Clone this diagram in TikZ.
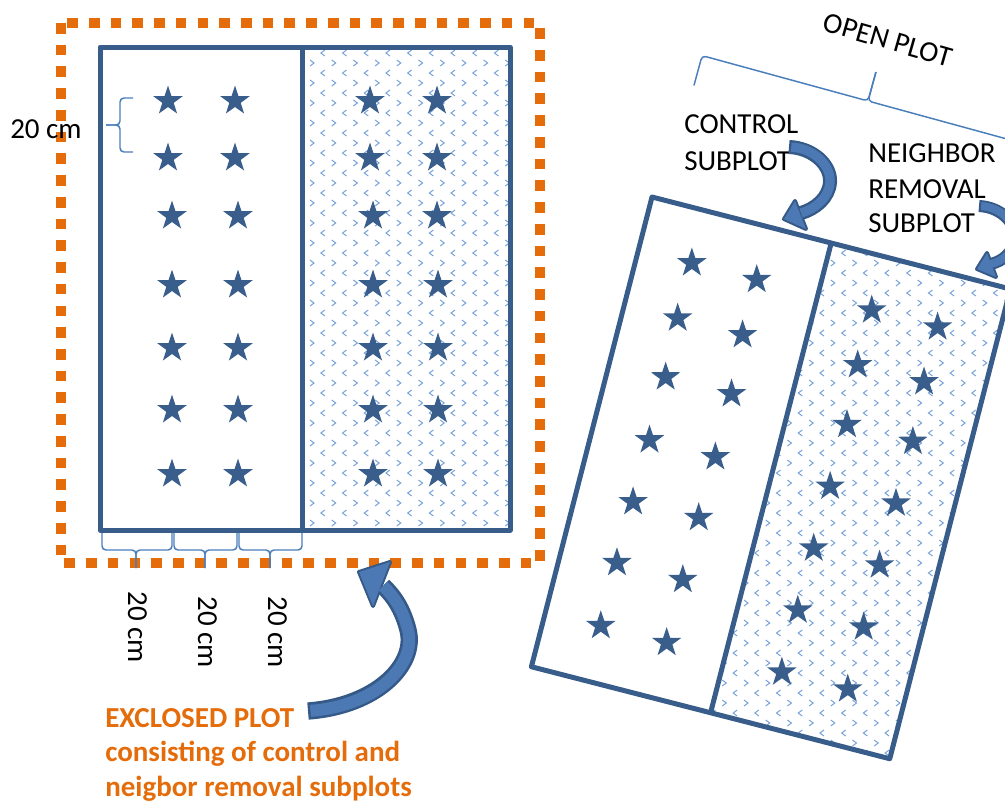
\documentclass[tikz,border=0pt]{standalone}
\usepackage{fontspec}
\setmainfont{Carlito}
\definecolor{frameblue}{RGB}{56,93,138}
\definecolor{starblue}{RGB}{58,94,140}
\definecolor{braceblue}{RGB}{74,126,187}
\definecolor{patblue}{RGB}{120,162,218}
\definecolor{dotorange}{RGB}{228,108,10}
\definecolor{arrowfill}{RGB}{76,120,180}
\definecolor{arrowedge}{RGB}{54,90,135}
\tikzset{
  starmark/.pic={\fill[starblue] (-90:15.5) -- (-54:6) -- (-18:15.5) -- (18:6) -- (54:15.5) -- (90:6) -- (126:15.5) -- (162:6) -- (198:15.5) -- (234:6) -- cycle;}
}
\begin{document}
\begin{tikzpicture}[x=0.75pt,y=-0.75pt,
  frame/.style={draw=frameblue,line width=3.75pt,line join=round},
  dotbox/.style={draw=dotorange,line width=7.5pt,dash pattern=on 8pt off 8.3pt},
  bracepath/.style={draw=braceblue,line width=1.1pt,rounded corners=3pt},
  chev/.style={draw=patblue,line width=0.75pt},
  lbl/.style={font=\fontsize{21.75}{26}\selectfont,inner sep=0pt,text=black},
  otxt/.style={font=\fontsize{21.75}{26}\selectfont\bfseries,inner sep=0pt,text=dotorange},
  rotplot/.style={shift={(652,197)},rotate=-14.4},
  openbrace/.style={shift={(868,101)},rotate=-15.3},
  aedge/.style={draw=arrowedge,line cap=butt},
  afill/.style={draw=arrowfill,line cap=butt}
]
\useasboundingbox (0,0) rectangle (1005,803);

% ---------- pattern, left plot right half
\begin{scope}
\clip (302,47) rectangle (510,530);
\foreach \i in {0,...,10}{\foreach \j in {-1,...,24}{
  \draw[chev] ({312+21.7*\i-2},{63+20*\j-3}) -- ++(4,3) -- ++(-4,3);
  \draw[chev] ({322.85+21.7*\i+2},{53+20*\j-3}) -- ++(-4,3) -- ++(4,3);
}}
\end{scope}

% ---------- rotated plot coordinates
\begin{scope}[rotplot]
\coordinate (rtl) at (0,0);
\coordinate (rtm) at (185,0);
\coordinate (rtr) at (370,0);
\coordinate (rbr) at (370,485);
\coordinate (rbm) at (185,485);
\coordinate (rbl) at (0,485);
\end{scope}

% ---------- pattern, rotated plot right half
\begin{scope}
\clip (rtm) -- (rtr) -- (rbr) -- (rbm) -- cycle;
\foreach \i in {17,...,33}{\foreach \j in {8,...,36}{
  \draw[chev] ({312+21.7*\i-2},{63+20*\j-3}) -- ++(4,3) -- ++(-4,3);
  \draw[chev] ({322.85+21.7*\i+2},{53+20*\j-3}) -- ++(-4,3) -- ++(4,3);
}}
\end{scope}

% ---------- exclosure (orange dotted)
\draw[dotbox] (61,23) rectangle (540,563);

% ---------- left plot
\draw[frame] (100,47) rectangle (510,530);
\draw[frame] (302,47) -- (302,530);
\foreach \x/\y in {168/101,235/101,168/158,235/158,172/216,238/216,172/285,238/285,172/348,238/348,172/410,238/410,172/474,238/474,
                   370/101,437/101,370/158,437/158,373/216,437/216,373/285,438/285,373/348,438/348,373/410,438/410,373/474,438/474}
  \pic at (\x,\y) {starmark};

% ---------- rotated (open) plot
\draw[frame] (rtl) -- (rtr) -- (rbr) -- (rbl) -- cycle;
\draw[frame] (rtm) -- (rbm);
\begin{scope}[rotplot]
\foreach \x/\y in {55/54,122/54,55/111,122/111,58/171,126/171,58/236,126/236,57.5/300,125/299,57/363,125/363,57/428,125/428,
                   241/55,309/55,241/111.5,309.5/111.5,245.5/172,313.5/172,244.5/236,312.5/236,244/300,312/300,244/364,312/364,244/428,312/428}
  \pic at (\x,\y) {starmark};
\end{scope}

% ---------- braces
\draw[bracepath] (133,98) -- (120,98) -- (120,125) -- (106,125);
\draw[bracepath] (133,152) -- (120,152) -- (120,125) -- (106,125);
\foreach \a/\m/\b in {102/136/172,174/205/237,239/270/302}{
  \draw[bracepath] (\a,533) -- (\a,550) -- (\m,550) -- (\m,568);
  \draw[bracepath] (\b,533) -- (\b,550) -- (\m,550) -- (\m,568);
}
\begin{scope}[openbrace]
\draw[bracepath] (-172,31) -- (-172,0) -- (0,0) -- (0,-30);
\draw[bracepath] (172,31) -- (172,0) -- (0,0) -- (0,-30);
\end{scope}

% ---------- texts
\node[lbl,anchor=base west] (cmleft) at (10,138) {20 cm};
\node[lbl,rotate=-90,anchor=base] (cm1) at (128,627) {20 cm};
\node[lbl,rotate=-90,anchor=base] (cm2) at (198,632) {20 cm};
\node[lbl,rotate=-90,anchor=base] (cm3) at (268,632) {20 cm};
\node[lbl,rotate=-16] (open) at (888,40) {OPEN PLOT};
\node[lbl,anchor=base west] (ctl1) at (684,133) {CONTROL};
\node[lbl,anchor=base west] (ctl2) at (684,170) {SUBPLOT};
\node[lbl,anchor=base west] (nb1) at (868,162) {NEIGHBOR};
\node[lbl,anchor=base west] (nb2) at (868,198) {REMOVAL};
\node[lbl,anchor=base west] (nb3) at (868,232) {SUBPLOT};
\node[otxt,anchor=base west] (ex1) at (105,727) {EXCLOSED PLOT};
\node[otxt,anchor=base west] (ex2) at (105,761) {consisting of control and};
\node[otxt,anchor=base west] (ex3) at (105,796) {neigbor removal subplots};

% ---------- curved arrows
% big arrow
\def\bigpath{(308,711) .. controls (376,706) and (417,665) .. (408,630) .. controls (403,610) and (394,596) .. (383,586)}
\filldraw[fill=arrowfill,draw=arrowedge,line width=3pt,line join=round] (359,572) -- (390,562) -- (373,606) -- cycle;
\draw[aedge,line width=13pt] \bigpath;
\draw[afill,line width=9pt,shorten <=1.8pt] \bigpath;
\fill[arrowfill] (359,572) -- (390,562) -- (373,606) -- cycle;
% control arrow
\def\ctlpath{(789,147) .. controls (813,148) and (831,165) .. (830,182) .. controls (829,198) and (815,209) .. (801,213)}
\filldraw[fill=arrowfill,draw=arrowedge,line width=3pt,line join=round] (784,219) -- (795,201) -- (806,229) -- cycle;
\draw[aedge,line width=10.5pt] \ctlpath;
\draw[afill,line width=7pt,shorten <=1.7pt] \ctlpath;
\fill[arrowfill] (784,219) -- (795,201) -- (806,229) -- cycle;
% neighbor arrow
\def\nbpath{(979,206) .. controls (1000,207) and (1016,222) .. (1015,238) .. controls (1014,252) and (1003,261) .. (991,264)}
\filldraw[fill=arrowfill,draw=arrowedge,line width=3pt,line join=round] (977,269) -- (987,253) -- (996,277) -- cycle;
\draw[aedge,line width=9pt] \nbpath;
\draw[afill,line width=6pt,shorten <=1.6pt] \nbpath;
\fill[arrowfill] (977,269) -- (987,253) -- (996,277) -- cycle;
\end{tikzpicture}
\end{document}
